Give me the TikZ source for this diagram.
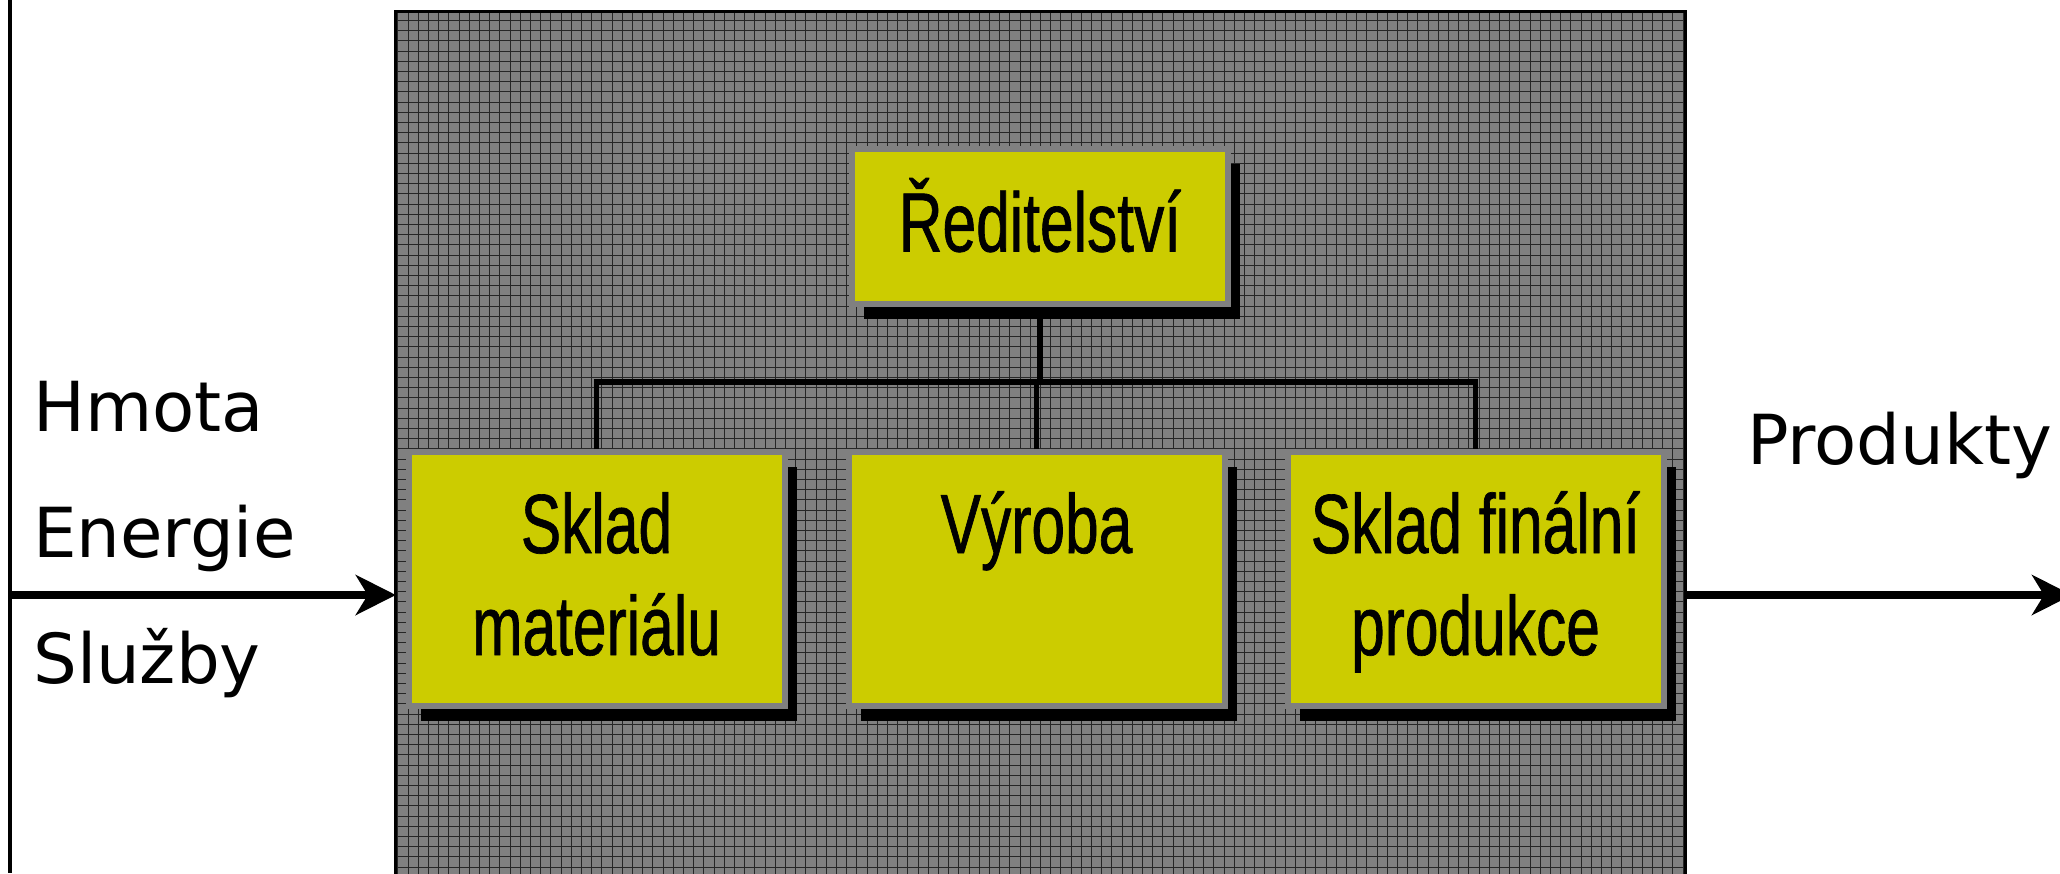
\documentclass[tikz,border=0pt]{standalone}
\usepackage{fontspec}
\usetikzlibrary{arrows.meta,shadows}
\newfontfamily\labfont{DejaVu Sans}
\newfontfamily\boxfont{Liberation Sans}[FakeStretch=0.72,FakeBold=0.8]
\newcommand\bstrut{\rule[-26pt]{0pt}{102pt}}
\definecolor{boxyellow}{HTML}{CCCC00}
\definecolor{boxgray}{HTML}{808080}
\begin{document}
\begin{tikzpicture}[x=1pt,y=-1pt,
  unit/.style={draw=boxgray, line width=6pt, fill=boxyellow,
    minimum width=376pt, minimum height=254pt, inner sep=0pt, align=center,
    font=\boxfont\fontsize{84}{102}\selectfont,
    drop shadow={shadow xshift=12pt, shadow yshift=-15pt, fill=black, opacity=1}},
  sysbox/.style={fill=boxgray, minimum width=1289pt, minimum height=868pt, inner sep=0pt},
  conn/.style={line width=5.5pt, black},
  flow/.style={line width=8pt, -{Stealth[length=40pt,width=40pt,inset=12pt]}},
  lab/.style={font=\labfont\fontsize{69}{80}\selectfont, anchor=base west, inner sep=0pt}]
\useasboundingbox (0,0) rectangle (2060,873);
% system box
\node[sysbox] (sys) at (1040.5,446) {};
\begin{scope}
  \clip (sys.north west) rectangle (sys.south east);
  \draw[black!85, line width=1pt, xstep=10.2pt, ystep=10.2pt] (sys.north west) grid (sys.south east);
\end{scope}
\draw[line width=3pt] (sys.north west) rectangle (sys.south east);
% left border line
\coordinate (lt) at (10,0);
\coordinate (lb) at (10,873);
\draw[line width=3.5pt] (lt) -- (lb);
% units
\node[unit, minimum height=155pt] (red) at (1040,226.5) {\bstrut Ředitelství};
\node[unit] (sm) at (596.5,579) {\bstrut Sklad\\\bstrut materiálu};
\node[unit] (vy) at (1036.5,579) {\bstrut Výroba\\\bstrut};
\node[unit] (sf) at (1475.5,579) {\bstrut Sklad finální\\\bstrut produkce};
% connectors
\coordinate (bus) at (0,382);
\draw[conn] (red.south) -- (red.south |- bus);
\draw[conn] (sm.north) -- (sm.north |- bus) -- (sf.north |- bus) -- (sf.north);
\draw[conn] (vy.north) -- (vy.north |- bus);
% flows
\coordinate (inL) at (10,595);
\coordinate (outR) at (2072,595);
\draw[flow] (inL) -- (sys.west |- inL);
\draw[flow] (sys.east |- inL) -- (outR);
% labels
\node[lab] (hm) at (33,431) {Hmota};
\node[lab] (en) at (33,557) {Energie};
\node[lab] (sl) at (33,683) {Služby};
\node[lab] (pr) at (1747,464) {Produkty};
\end{tikzpicture}
\end{document}
